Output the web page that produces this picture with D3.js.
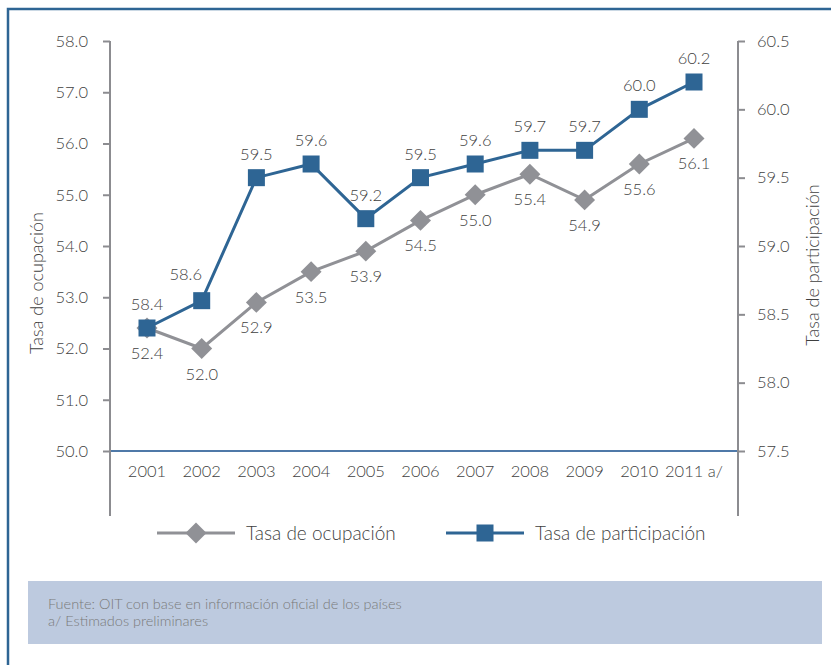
<!DOCTYPE html>
<html>
<head>
<meta charset="utf-8">
<script src="https://cdn.jsdelivr.net/npm/d3@7"></script>
<style>
  body { margin: 0; background: #fff; }
  svg text { font-family: Lato, "Open Sans", sans-serif; font-weight: 300; fill: #3f3f3f; }
</style>
</head>
<body>
<div id="container"></div>
<script>
const years = ['2001', '2002', '2003', '2004', '2005', '2006', '2007', '2008', '2009', '2010', '2011'];
const yearLabels = ['2001', '2002', '2003', '2004', '2005', '2006', '2007', '2008', '2009', '2010', '2011 a/'];
const ocupacion = [52.4, 52.0, 52.9, 53.5, 53.9, 54.5, 55.0, 55.4, 54.9, 55.6, 56.1];
const participacion = [58.4, 58.6, 59.5, 59.6, 59.2, 59.5, 59.6, 59.7, 59.7, 60.0, 60.2];
const leftTicks = [50, 51, 52, 53, 54, 55, 56, 57, 58];
const rightTicks = [57.5, 58.0, 58.5, 59.0, 59.5, 60.0, 60.5];

const WIDTH = 831;
const HEIGHT = 665;
const BLUE = '#2e6594';
const GRAY = '#909196';
const AXIS = '#8c8c90';

let canvas = d3.select('#container').append('svg').attr('width', WIDTH).attr('height', HEIGHT);

// frame (top + left only)
canvas.append('path').attr('d', 'M8,665 L8,9 L831,9').attr('fill', 'none').attr('stroke', BLUE).attr('stroke-width', 2.5);

let x = d3.scalePoint().domain(years).range([147, 694]);
let yL = d3.scaleLinear().domain([50, 58]).range([451, 41]);
let yR = d3.scaleLinear().domain([57.5, 60.5]).range([451, 41]);

// baseline
canvas.append('line').attr('x1', 110).attr('x2', 738).attr('y1', yL(50)).attr('y2', yL(50))
  .attr('stroke', '#4f79a8').attr('stroke-width', 2);

// left axis
let left = canvas.append('g').attr('transform', 'translate(110,0)')
  .call(d3.axisLeft(yL).tickValues(leftTicks).tickFormat(d3.format('.1f')).tickSize(7).tickPadding(15));
left.select('.domain').remove();
left.append('line').attr('y1', 41).attr('y2', 516).attr('stroke', AXIS).attr('stroke-width', 2);
left.selectAll('.tick line').attr('stroke', AXIS).attr('stroke-width', 2);
left.selectAll('.tick text').attr('font-size', 16.5).attr('fill', '#3f3f3f');

// right axis
let right = canvas.append('g').attr('transform', 'translate(738,0)')
  .call(d3.axisRight(yR).tickValues(rightTicks).tickFormat(d3.format('.1f')).tickSize(7).tickPadding(12));
right.select('.domain').remove();
right.append('line').attr('y1', 41).attr('y2', 516).attr('stroke', AXIS).attr('stroke-width', 2);
right.selectAll('.tick line').attr('stroke', AXIS).attr('stroke-width', 2);
right.selectAll('.tick text').attr('font-size', 16.5).attr('fill', '#3f3f3f');

// x labels
canvas.append('g').selectAll('text').data(years).join('text')
  .attr('x', (d) => x(d)).attr('y', 477).attr('text-anchor', 'middle').attr('font-size', 16.5)
  .text((d, i) => yearLabels[i]);

// axis titles
canvas.append('text').attr('transform', 'translate(43,283) rotate(-90)').attr('text-anchor', 'middle')
  .attr('font-size', 18).text('Tasa de ocupación');
canvas.append('text').attr('transform', 'translate(819,265) rotate(-90)').attr('text-anchor', 'middle')
  .attr('font-size', 18).text('Tasa de participación');

// lines
let lineO = d3.line().x((d, i) => x(years[i])).y((d) => yL(d));
let lineP = d3.line().x((d, i) => x(years[i])).y((d) => yR(d));

canvas.append('path').attr('d', lineO(ocupacion)).attr('fill', 'none').attr('stroke', GRAY).attr('stroke-width', 3);
canvas.append('path').attr('d', lineP(participacion)).attr('fill', 'none').attr('stroke', BLUE).attr('stroke-width', 3);

let diamond = d3.symbol().type(d3.symbolSquare).size(220);

canvas.append('g').selectAll('path').data(ocupacion).join('path')
  .attr('d', diamond)
  .attr('transform', (d, i) => `translate(${x(years[i])},${yL(d)}) rotate(45)`)
  .attr('fill', GRAY);

canvas.append('g').selectAll('rect').data(participacion).join('rect')
  .attr('x', (d, i) => x(years[i]) - 8.5).attr('y', (d) => yR(d) - 8.5)
  .attr('width', 17).attr('height', 17).attr('fill', BLUE);

// value labels
canvas.append('g').selectAll('text').data(ocupacion).join('text')
  .attr('x', (d, i) => x(years[i])).attr('y', (d) => yL(d) + 31)
  .attr('text-anchor', 'middle').attr('font-size', 16.5).text((d) => d.toFixed(1));

canvas.append('g').selectAll('text').data(participacion).join('text')
  .attr('x', (d, i) => x(years[i]) - (i === 1 ? 16 : 0)).attr('y', (d, i) => yR(d) - (i === 1 ? 21 : 18))
  .attr('text-anchor', 'middle').attr('font-size', 16.5).text((d) => d.toFixed(1));

// legend
let legend = canvas.append('g');
legend.append('line').attr('x1', 157).attr('x2', 235).attr('y1', 533).attr('y2', 533).attr('stroke', GRAY).attr('stroke-width', 3);
legend.append('path').attr('d', diamond).attr('transform', 'translate(196,533) rotate(45)').attr('fill', GRAY);
legend.append('text').attr('x', 246).attr('y', 540).attr('font-size', 19).text('Tasa de ocupación');
legend.append('line').attr('x1', 446).attr('x2', 524).attr('y1', 533).attr('y2', 533).attr('stroke', BLUE).attr('stroke-width', 3);
legend.append('rect').attr('x', 476.5).attr('y', 524.5).attr('width', 17).attr('height', 17).attr('fill', BLUE);
legend.append('text').attr('x', 535).attr('y', 540).attr('font-size', 19).text('Tasa de participación');

// source box
canvas.append('rect').attr('x', 28).attr('y', 581).attr('width', 794).attr('height', 63).attr('fill', '#bdcadf');
canvas.append('text').attr('x', 48).attr('y', 609).attr('font-size', 14.5).style('fill', '#7a7a7a')
  .text('Fuente: OIT con base en información oficial de los países');
canvas.append('text').attr('x', 48).attr('y', 626).attr('font-size', 14.5).style('fill', '#7a7a7a')
  .text('a/ Estimados preliminares');
</script>
</body>
</html>
